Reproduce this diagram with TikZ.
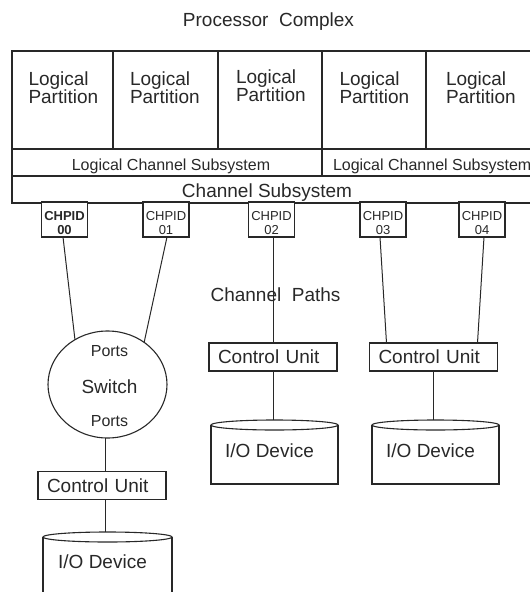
\documentclass[tikz,border=0pt]{standalone}
\usepackage{fontspec}
\setmainfont{Liberation Sans}
\usetikzlibrary{shapes.geometric,calc}
\definecolor{ink}{RGB}{40,40,40}
\begin{document}
\begin{tikzpicture}[x=1pt,y=-1pt,
  every node/.style={text=ink, inner sep=0pt, outer sep=0pt},
  big/.style={font=\fontsize{19}{18}\selectfont},
  mid/.style={font=\fontsize{16}{16}\selectfont},
  sml/.style={font=\fontsize{13}{14}\selectfont},
  box/.style={draw=ink, line width=1.2pt, rectangle, anchor=north west},
  chpid/.style={draw=ink, line width=1.1pt, rectangle, fill=white, minimum width=46, minimum height=35},
  cu/.style={draw=ink, line width=1.1pt, rectangle, fill=white, minimum width=128, minimum height=28, big, text width=110, align=left},
  iobody/.style={rectangle, minimum width=128, minimum height=59},
  wire/.style={draw=ink, line width=1pt},
]
\useasboundingbox (0,0) rectangle (530,592);

% title
\node[big, anchor=base] (title) at (268.5,26) {Processor\ \ Complex};

% logical partitions
\node[box, minimum width=101, minimum height=98] (p1) at (12,51) {};
\node[box, minimum width=105, minimum height=98] (p2) at (113,51) {};
\node[box, minimum width=104, minimum height=98] (p3) at (218,51) {};
\node[box, minimum width=104, minimum height=98] (p4) at (322,51) {};
\node[box, minimum width=114, minimum height=98] (p5) at (426,51) {};
\node[big, anchor=base west] (p1a) at (28.5,85) {Logical};
\node[big, anchor=base west] (p1b) at (28.5,103) {Partition};
\node[big, anchor=base west] (p2a) at (130,85) {Logical};
\node[big, anchor=base west] (p2b) at (130,103) {Partition};
\node[big, anchor=base west] (p3a) at (236,83) {Logical};
\node[big, anchor=base west] (p3b) at (236,101.5) {Partition};
\node[big, anchor=base west] (p4a) at (339.5,85) {Logical};
\node[big, anchor=base west] (p4b) at (339.5,103) {Partition};
\node[big, anchor=base west] (p5a) at (446,85) {Logical};
\node[big, anchor=base west] (p5b) at (446,103) {Partition};

% logical channel subsystems
\node[box, minimum width=310, minimum height=27] (l1) at (12,149) {};
\node[box, minimum width=218, minimum height=27] (l2) at (322,149) {};
\node[mid, anchor=base] (l1t) at (171,170) {Logical Channel Subsystem};
\node[mid, anchor=base west] (l2t) at (333,170) {Logical Channel Subsystem};

% channel subsystem
\node[box, minimum width=528, minimum height=27] (cs) at (12,176) {};
\node[big, anchor=base] (cst) at (267,197) {Channel Subsystem};

% CHPIDs
\node[chpid] (c0) at (64.5,219.5) {};
\node[chpid] (c1) at (166,219.5) {};
\node[chpid] (c2) at (271.5,219.5) {};
\node[chpid] (c3) at (383,219.5) {};
\node[chpid] (c4) at (482,219.5) {};
\node[sml, align=center] (c0t) at (64.5,223.4) {\bfseries CHPID\\\bfseries 00};
\node[sml, align=center] (c1t) at (166,223.4) {CHPID\\01};
\node[sml, align=center] (c2t) at (271.5,223.4) {CHPID\\02};
\node[sml, align=center] (c3t) at (383,223.4) {CHPID\\03};
\node[sml, align=center] (c4t) at (482,223.4) {CHPID\\04};

% switch
\node[ellipse, draw=ink, line width=1.1pt, minimum width=119, minimum height=107] (sw) at (107.5,384.5) {};
\node[mid, anchor=base] (swp1) at (109.5,356) {Ports};
\node[big, anchor=base] (swt) at (109.5,393) {Switch};
\node[mid, anchor=base] (swp2) at (109.5,426) {Ports};

% control units
\node[cu] (u1) at (102,485.5) {Control Unit};
\node[cu] (u2) at (273,357) {Control Unit};
\node[cu] (u3) at (433.5,357) {Control Unit};

% I/O devices
\node[iobody, minimum width=129, minimum height=63] (io1) at (107.5,568.5) {};
\node[iobody, minimum width=127] (io2) at (274.5,454.5) {};
\node[iobody, minimum width=127] (io3) at (435.5,454.5) {};
\foreach \d/\r in {io1/64.5,io2/63.5,io3/63.5}{
  \draw[wire, line width=1.1pt] (\d.north west) -- (\d.south west) -- (\d.south east) -- (\d.north east);
  \draw[wire, line width=1.1pt, fill=white] (\d.north) ellipse [x radius=\r pt, y radius=5pt];
}
\coordinate (io1t) at ($(io1.north)+(0,-5)$);
\coordinate (io2t) at ($(io2.north)+(0,-5)$);
\coordinate (io3t) at ($(io3.north)+(0,-5)$);
\node[big, anchor=base] (io1l) at (102.5,568) {I/O Device};
\node[big, anchor=base] (io2l) at (269.5,457) {I/O Device};
\node[big, anchor=base] (io3l) at (430.5,457) {I/O Device};

% connectors
\draw[wire] ($(c0.south)+(-1.5,0)$) -- (sw.126);
\draw[wire] ($(c1.south)+(1,0)$) -- (sw.49);
\draw[wire] (c2.south -| u2.north) -- (u2.north);
\draw[wire] ($(c3.south)+(-3,0)$) -- ($(u3.north west)+(17,0)$);
\draw[wire] ($(c4.south)+(2,0)$) -- ($(u3.north east)+(-20,0)$);
\coordinate (swb) at ($(sw.south)+(-2.5,0)$);
\draw[wire] (swb) -- (swb |- u1.north);
\draw[wire] (u1.south -| swb) -- (io1t -| swb);
\draw[wire] (u2.south) -- (u2.south |- io2t);
\draw[wire] (u3.south) -- (u3.south |- io3t);

\node[big, anchor=base] (cp) at (275.5,301) {Channel\ \ Paths};
\end{tikzpicture}
\end{document}
